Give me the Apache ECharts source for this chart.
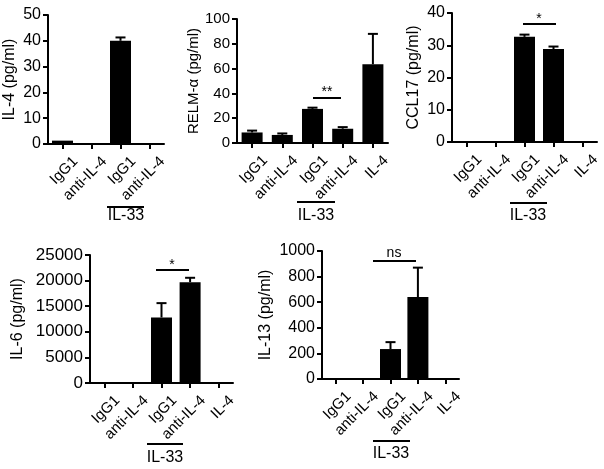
<!DOCTYPE html>
<html>
<head>
<meta charset="utf-8">
<script src="https://cdn.jsdelivr.net/npm/echarts@6/dist/echarts.min.js"></script>
<style>
  html, body { margin: 0; padding: 0; background: #fff; }
  #chart { width: 604px; height: 469px; }
</style>
</head>
<body>
<div id="chart"></div>
<script>
// categories
const cats4 = ['IgG1', 'anti-IL-4', 'IgG1', 'anti-IL-4']
const cats5 = ['IgG1', 'anti-IL-4', 'IgG1', 'anti-IL-4', 'IL-4']

// means and SEM
const il4Mean = [1.3, 0, 40, 0]
const il4Sem = [0, 0, 1.3, 0]
const relmMean = [8.5, 6.5, 27.5, 11.5, 63.5]
const relmSem = [1.5, 1.2, 1, 1.3, 24.5]
const ccl17Mean = [0, 0, 32.6, 28.8, 0]
const ccl17Sem = [0, 0, 0.7, 0.8, 0]
const il6Mean = [0, 80, 12800, 19700, 0]
const il6Sem = [0, 0, 2800, 850, 0]
const il13Mean = [0, 0, 234, 640, 0]
const il13Sem = [0, 0, 54, 230, 0]

// y axis ranges
const yMax = [50, 100, 40, 25000, 1000]
const yStep = [10, 20, 10, 5000, 200]
const yNames = ['IL-4 (pg/ml)', 'RELM-α (pg/ml)', 'CCL17 (pg/ml)', 'IL-6 (pg/ml)', 'IL-13 (pg/ml)']

const panels = [
  { cats: cats4, mean: il4Mean, sem: il4Sem, grid: { left: 48, top: 15, width: 116, height: 129 }, nameGap: 30, font: 16 },
  { cats: cats5, mean: relmMean, sem: relmSem, grid: { left: 237, top: 19, width: 151, height: 124 }, nameGap: 29, font: 15 },
  { cats: cats5, mean: ccl17Mean, sem: ccl17Sem, grid: { left: 452, top: 13, width: 145, height: 129 }, nameGap: 30, font: 16 },
  { cats: cats5, mean: il6Mean, sem: il6Sem, grid: { left: 90, top: 255, width: 143, height: 128 }, nameGap: 64, font: 17 },
  { cats: cats5, mean: il13Mean, sem: il13Sem, grid: { left: 322, top: 251, width: 137, height: 128 }, nameGap: 48, font: 16 }
]

const FONT = "'Liberation Sans', Arial, sans-serif"
const axisLine = { show: true, lineStyle: { color: '#000', width: 2 } }

// 误差线（只画上半部分）
function renderErr(params, api) {
  const sem = api.value(2)
  if (!sem) return
  const base = api.coord([api.value(0), api.value(1)])
  const top = api.coord([api.value(0), api.value(1) + sem])
  const w = 5
  const style = { stroke: '#000', lineWidth: 2 }
  return {
    type: 'group',
    children: [
      { type: 'line', shape: { x1: base[0], y1: base[1], x2: top[0], y2: top[1] }, style },
      { type: 'line', shape: { x1: base[0] - w, y1: top[1], x2: base[0] + w, y2: top[1] }, style }
    ]
  }
}

const grids = []
const xAxes = []
const yAxes = []
const series = []

panels.forEach((p, i) => {
  grids.push({ ...p.grid, outerBoundsMode: 'none', containLabel: false })
  xAxes.push({
    type: 'category',
    gridIndex: i,
    data: p.cats,
    axisLine,
    axisTick: { show: true, alignWithLabel: true, length: 5, lineStyle: { color: '#000', width: 2 } },
    axisLabel: {
      rotate: 45, interval: 0, margin: 2,
      align: 'right', verticalAlign: 'top', padding: [11, 0, 0, 0], // 标签整体往右下挪
      color: '#000', fontSize: 15, fontFamily: FONT
    }
  })
  yAxes.push({
    type: 'value',
    gridIndex: i,
    min: 0,
    max: yMax[i],
    interval: yStep[i],
    name: yNames[i],
    nameLocation: 'middle',
    nameGap: p.nameGap,
    nameRotate: 90,
    nameTextStyle: { color: '#000', fontSize: i === 1 ? 15 : 16, fontFamily: FONT },
    axisLine,
    axisTick: { show: true, length: 5, lineStyle: { color: '#000', width: 2 } },
    axisLabel: {
      margin: 7, color: '#000', fontSize: p.font, fontFamily: FONT,
      formatter: (v) => String(v) // 不要千分位
    },
    splitLine: { show: false }
  })
  series.push({
    type: 'bar',
    xAxisIndex: i,
    yAxisIndex: i,
    data: p.mean,
    barWidth: 21,
    itemStyle: { color: '#000' },
    silent: true
  })
  series.push({
    type: 'custom',
    xAxisIndex: i,
    yAxisIndex: i,
    renderItem: renderErr,
    encode: { x: 0, y: 1 },
    data: p.mean.map((m, k) => [k, m, p.sem[k]]),
    z: 1,
    silent: true
  })
})

// 注释：显著性线与 IL-33 分组线
const lineStyle = { stroke: '#000', lineWidth: 2 }
function hline(x1, x2, y) {
  return { type: 'line', shape: { x1, y1: y, x2, y2: y }, style: lineStyle }
}
function label(text, x, y, size) {
  return {
    type: 'text', x, y,
    style: { text, fill: '#000', font: size + 'px ' + FONT, textAlign: 'center', textVerticalAlign: 'middle' }
  }
}

const graphic = [
  // IL-4
  hline(107, 144, 207), label('IL-33', 126, 216, 16),
  // RELM-α
  hline(313, 341, 98), label('**', 327, 92, 14),
  hline(297, 335, 202), label('IL-33', 316, 216, 16),
  // CCL17
  hline(523, 556, 24), label('*', 539, 19, 14),
  hline(510, 547, 203), label('IL-33', 528, 216, 16),
  // IL-6
  hline(156, 189, 270), label('*', 172, 265, 14),
  hline(147, 183, 444), label('IL-33', 165, 458, 16),
  // IL-13
  hline(373, 416, 261), label('ns', 394, 253, 14),
  hline(373, 410, 441), label('IL-33', 391, 454, 16)
]

const chart = echarts.init(document.getElementById('chart'))
chart.setOption({
  animation: false,
  backgroundColor: '#fff',
  grid: grids,
  xAxis: xAxes,
  yAxis: yAxes,
  series,
  graphic
})
</script>
</body>
</html>
